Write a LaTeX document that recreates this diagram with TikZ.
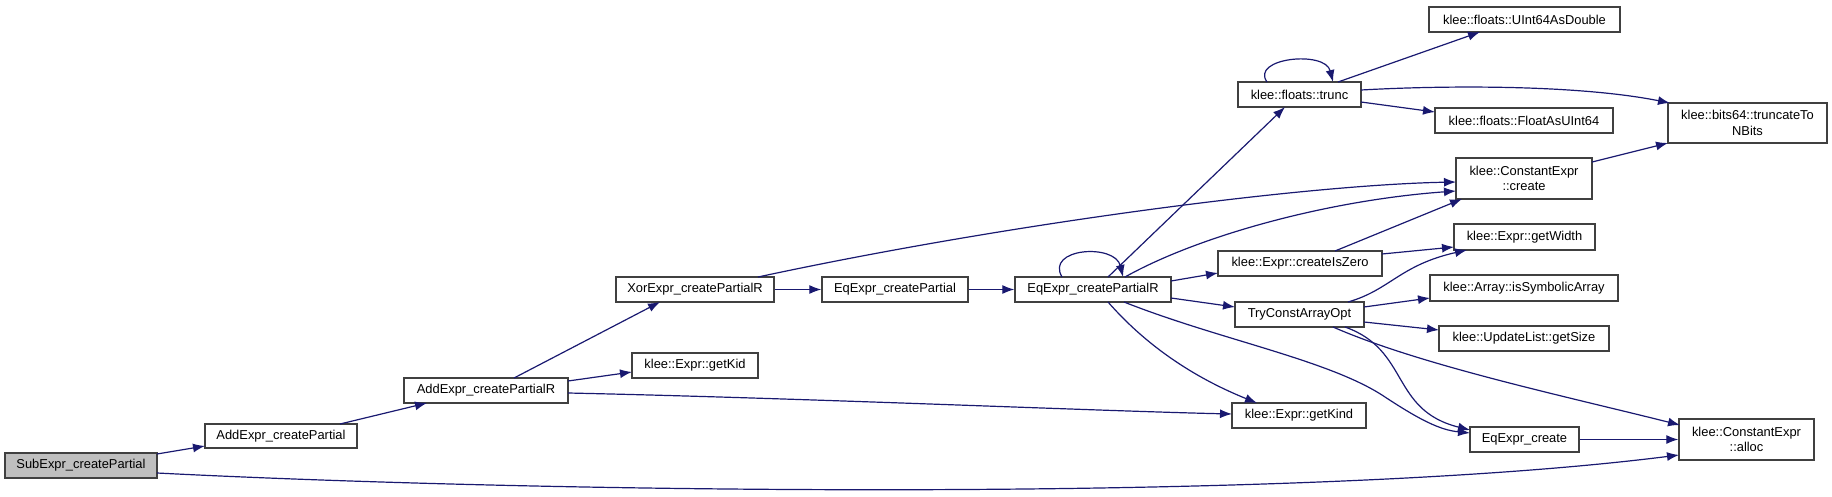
\documentclass[tikz,border=0pt]{standalone}
\usepackage{fontspec}
\setmainfont{Liberation Sans}
\usetikzlibrary{arrows.meta,calc}
\definecolor{edgec}{HTML}{191970}
\definecolor{boxc}{HTML}{404040}
\definecolor{subfill}{HTML}{BFBFBF}
\tikzset{
  fn/.style={draw=boxc, line width=1.3pt, fill=white, inner sep=0pt, align=center,
    font=\fontsize{12.9}{15.5}\selectfont, anchor=center},
  call/.style={draw=edgec, line width=1.2pt, -{Latex[length=12pt,width=9pt]}},
}
\begin{document}
\begin{tikzpicture}[x=1pt,y=-1pt]
\useasboundingbox (0,0) rectangle (1832,496);
% nodes
\node[fn, fill=subfill, minimum width=152, minimum height=25] (sub) at (81,465.5) {SubExpr\_createPartial};
\node[fn, minimum width=152, minimum height=24] (addp) at (281,436) {AddExpr\_createPartial};
\node[fn, minimum width=164, minimum height=25] (addr) at (486,390.5) {AddExpr\_createPartialR};
\node[fn, minimum width=126, minimum height=25] (getkid) at (695,365.5) {klee::Expr::getKid};
\node[fn, minimum width=158, minimum height=25] (xor) at (695,289.5) {XorExpr\_createPartialR};
\node[fn, minimum width=146, minimum height=25] (eqp) at (895,289.5) {EqExpr\_createPartial};
\node[fn, minimum width=156, minimum height=25] (eqr) at (1093,289.5) {EqExpr\_createPartialR};
\node[fn, minimum width=123, minimum height=25] (trunc) at (1299.5,94.5) {klee::floats::trunc};
\node[fn, minimum width=191, minimum height=25] (u64d) at (1524.5,19.5) {klee::floats::UInt64AsDouble};
\node[fn, minimum width=178, minimum height=25] (f2u) at (1524,120.5) {klee::floats::FloatAsUInt64};
\node[fn, minimum width=136, minimum height=41] (create) at (1524,178.5) {klee::ConstantExpr\\::create};
\node[fn, minimum width=159, minimum height=40] (ttn) at (1747.5,123) {klee::bits64::truncateTo\\NBits};
\node[fn, minimum width=164, minimum height=25] (isz) at (1300,263.5) {klee::Expr::createIsZero};
\node[fn, minimum width=129, minimum height=25] (tca) at (1299.5,314.5) {TryConstArrayOpt};
\node[fn, minimum width=134, minimum height=25] (getkind) at (1299,415.5) {klee::Expr::getKind};
\node[fn, minimum width=141, minimum height=26] (getwidth) at (1524.5,237) {klee::Expr::getWidth};
\node[fn, minimum width=188, minimum height=26] (issym) at (1524,288) {klee::Array::isSymbolicArray};
\node[fn, minimum width=170, minimum height=25] (getsize) at (1524,338.5) {klee::UpdateList::getSize};
\node[fn, minimum width=109, minimum height=25] (eqc) at (1524.5,439.5) {EqExpr\_create};
\node[fn, minimum width=135, minimum height=41] (alloc) at (1746.5,439.5) {klee::ConstantExpr\\::alloc};
% edges
\draw[call] ($(sub)+(76,-11.5)$) -- ($(addp)+(-76,10)$);
\draw[call] ($(sub)+(76,7.5)$) .. controls (550,493) and (1300,503) .. ($(alloc)+(-67.5,15.5)$);
\draw[call] ($(addp)+(59,-12)$) -- ($(addr)+(-59,12.5)$);
\draw[call] ($(addr)+(28,-12.5)$) -- ($(xor)+(-35,12.5)$);
\draw[call] ($(addr)+(82,-9.5)$) -- ($(getkid)+(-63,6.5)$);
\draw[call] ($(addr)+(82,2.5)$) .. controls (800,398) and (1100,411) .. ($(getkind)+(-67,-1.5)$);
\draw[call] (xor.east) -- (eqp.west);
\draw[call] ($(xor)+(63,-12.5)$) .. controls (1000,225) and (1300,185) .. ($(create)+(-68,3.5)$);
\draw[call] (eqp.east) -- (eqr.west);
\draw[call] ($(eqr)+(-31,-12.5)$) .. controls (1045,248) and (1115,243) .. ($(eqr)+(30,-12.5)$);
\draw[call] ($(eqr)+(15,-12.5)$) -- ($(trunc)+(-14.5,12.5)$);
\draw[call] ($(eqr)+(32,-12.5)$) .. controls (1200,235) and (1330,200) .. ($(create)+(-68,12.5)$);
\draw[call] ($(eqr)+(78,-8.5)$) -- ($(isz)+(-82,9.5)$);
\draw[call] ($(eqr)+(78,8.5)$) -- ($(tca)+(-64.5,-7.5)$);
\draw[call] ($(eqr)+(15,12.5)$) .. controls (1150,350) and (1200,380) .. ($(getkind)+(-42,-12.5)$);
\draw[call] ($(eqr)+(31,12.5)$) .. controls (1220,340) and (1330,360) .. (1385,397) .. controls (1420,420) and (1440,430) .. ($(eqc)+(-54.5,-6.5)$);
\draw[call] ($(isz)+(35,-12.5)$) -- ($(create)+(-62,20.5)$);
\draw[call] ($(isz)+(82,-9.5)$) -- ($(getwidth)+(-70.5,10)$);
\draw[call] ($(tca)+(48.5,-12.5)$) .. controls (1390,290) and (1400,265) .. ($(getwidth)+(-57.5,13)$);
\draw[call] ($(tca)+(64.5,-7.5)$) -- ($(issym)+(-94,10)$);
\draw[call] ($(tca)+(64.5,7.5)$) -- ($(getsize)+(-85,-8.5)$);
\draw[call] ($(tca)+(45.5,12.5)$) .. controls (1410,350) and (1390,410) .. ($(eqc)+(-54.5,-9.5)$);
\draw[call] ($(tca)+(33.5,12.5)$) .. controls (1420,365) and (1560,395) .. ($(alloc)+(-66.5,-14.5)$);
\draw[call] (eqc.east) -- (alloc.west);
\draw[call] ($(trunc)+(-32.5,-12.5)$) .. controls (1250,58) and (1325,50) .. ($(trunc)+(33.5,-12.5)$);
\draw[call] ($(trunc)+(38.5,-12.5)$) -- ($(u64d)+(-44.5,12.5)$);
\draw[call] ($(trunc)+(61.5,-4.5)$) .. controls (1450,85) and (1580,85) .. ($(ttn)+(-77.5,-20)$);
\draw[call] ($(trunc)+(61.5,7.5)$) -- ($(f2u)+(-89,-8.5)$);
\draw[call] ($(create)+(68,-16.5)$) -- ($(ttn)+(-79.5,20)$);
\end{tikzpicture}
\end{document}
